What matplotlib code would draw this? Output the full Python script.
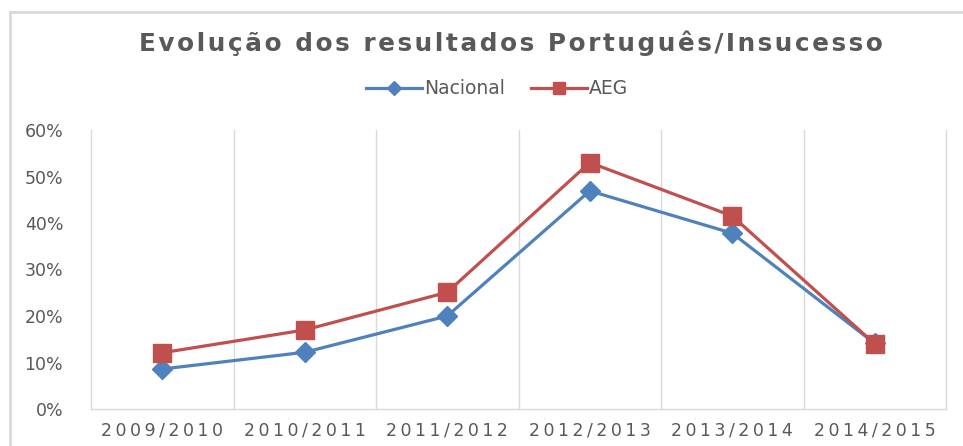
import matplotlib
matplotlib.use("Agg")
import matplotlib.pyplot as plt
from matplotlib.lines import Line2D

# data
anos = ["2009/2010", "2010/2011", "2011/2012", "2012/2013", "2013/2014", "2014/2015"]
nacional = [8.6, 12.2, 20.0, 46.9, 37.8, 14.1]
aeg = [12.1, 17.0, 25.1, 53.0, 41.5, 14.0]
y_ticks = [0, 10, 20, 30, 40, 50, 60]

azul = "#4F81BD"
vermelho = "#C0504D"
cinza = "#595959"
grelha = "#D9D9D9"


def espacar(txt, sep="\u200a"):
    # crude letter spacing, like the Excel chart text
    return sep.join(txt)


fig = plt.figure(figsize=(9.63, 4.46), dpi=100)
ax = fig.add_axes([91 / 963, 37 / 446, 855 / 963, 279 / 446])

x = list(range(len(anos)))
ax.plot(x, nacional, color=azul, lw=2.3, marker="D", ms=10, zorder=3, label="Nacional")
ax.plot(x, aeg, color=vermelho, lw=2.3, marker="s", ms=12.5, zorder=4, label="AEG")

ax.set_xlim(-0.5, len(anos) - 0.5)
ax.set_ylim(0, 60)
for b in range(1, len(anos)):
    ax.axvline(b - 0.5, color=grelha, lw=1, zorder=1)

ax.set_yticks(y_ticks)
ax.set_yticklabels([f"{v}%" for v in y_ticks], fontsize=12.5, color=cinza)
ax.set_xticks(x)
ax.set_xticklabels([espacar(a, "\u2009") for a in anos], fontsize=12.5, color=cinza)
ax.tick_params(length=0)
ax.tick_params(axis="x", pad=9)
ax.tick_params(axis="y", pad=20)

for s in ["left", "right", "bottom"]:
    ax.spines[s].set_color(grelha)
    ax.spines[s].set_linewidth(1)
ax.spines["top"].set_visible(False)

fig.text(511 / 963, 1 - 43 / 446, espacar("Evolução dos resultados Português/Insucesso"),
         ha="center", va="center", fontsize=17.8, fontweight="bold", color=cinza)

handles = [
    Line2D([], [], color=azul, lw=2.3, marker="D", ms=7),
    Line2D([], [], color=vermelho, lw=2.3, marker="s", ms=8),
]
fig.legend(handles, ["Nacional", "AEG"], loc="center", bbox_to_anchor=(497 / 963, 1 - 89 / 446),
           ncol=2, frameon=False, handlelength=3.0, handletextpad=0.1,
           columnspacing=1.4, prop={"family": ["Liberation Sans Narrow", "DejaVu Sans"], "size": 13.5},
           labelcolor=cinza)

# outer border of the original picture (top and left edges only visible)
fig.add_artist(Line2D([10 / 963, 1], [1 - 12 / 446] * 2, color=grelha, lw=2, transform=fig.transFigure))
fig.add_artist(Line2D([10 / 963] * 2, [0, 1 - 12 / 446], color=grelha, lw=2, transform=fig.transFigure))

fig.savefig("out.png", dpi=100, facecolor="white")
